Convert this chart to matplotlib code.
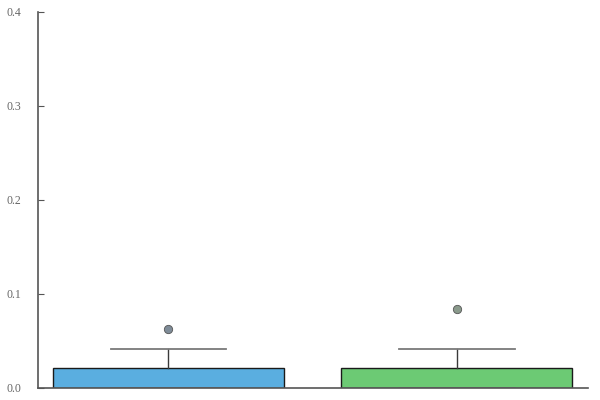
import matplotlib
matplotlib.use("Agg")
import matplotlib.pyplot as plt

# box statistics
groups = ["A", "B"]
q1 = [0.0, 0.0]
med = [0.0, 0.0]
q3 = [0.021, 0.021]
whislo = [0.0, 0.0]
whishi = [0.0415, 0.0415]
fliers = [[0.0628], [0.0838]]

box_colors = ["#5aaee0", "#6cca74"]
flier_colors = ["#7f8c98", "#8a9a8c"]

plt.rcParams['font.family'] = ['Liberation Serif', 'DejaVu Serif']

fig = plt.figure(figsize=(6, 4), dpi=100)
ax = fig.add_axes([0.063, 0.03, 0.917, 0.94])

stats = []
for i in range(len(groups)):
    stats.append(dict(q1=q1[i], med=med[i], q3=q3[i], whislo=whislo[i],
                      whishi=whishi[i], fliers=fliers[i], label=groups[i]))

bp = ax.bxp(stats, positions=range(len(groups)), widths=0.8, patch_artist=True,
            showfliers=False,
            boxprops=dict(linewidth=1.0, edgecolor="#1a1a1a"),
            medianprops=dict(linewidth=0),
            whiskerprops=dict(color="#3a3a3a", linewidth=1.0),
            capprops=dict(color="#7a7a7a", linewidth=1.3),
            capwidths=0.4)
for patch, c in zip(bp['boxes'], box_colors):
    patch.set_facecolor(c)

for i in range(len(groups)):
    ax.scatter([i] * len(fliers[i]), fliers[i], s=36, color=flier_colors[i],
               edgecolor="#555555", linewidth=0.6, zorder=3)

ax.set_xlim(-0.452, 1.454)
ax.set_ylim(0, 0.4)
ax.set_yticks([0.0, 0.1, 0.2, 0.3, 0.4])
ax.set_yticklabels(["0.0", "0.1", "0.2", "0.3", "0.4"])
ax.set_xticks([])
ax.tick_params(axis='y', direction='in', length=4, colors="#555555",
               labelcolor="#666666", labelsize=8.5, pad=12)
for s in ['top', 'right']:
    ax.spines[s].set_visible(False)
for s in ['left', 'bottom']:
    ax.spines[s].set_color("#555555")
    ax.spines[s].set_linewidth(1.2)

fig.savefig("out.png", dpi=100)
